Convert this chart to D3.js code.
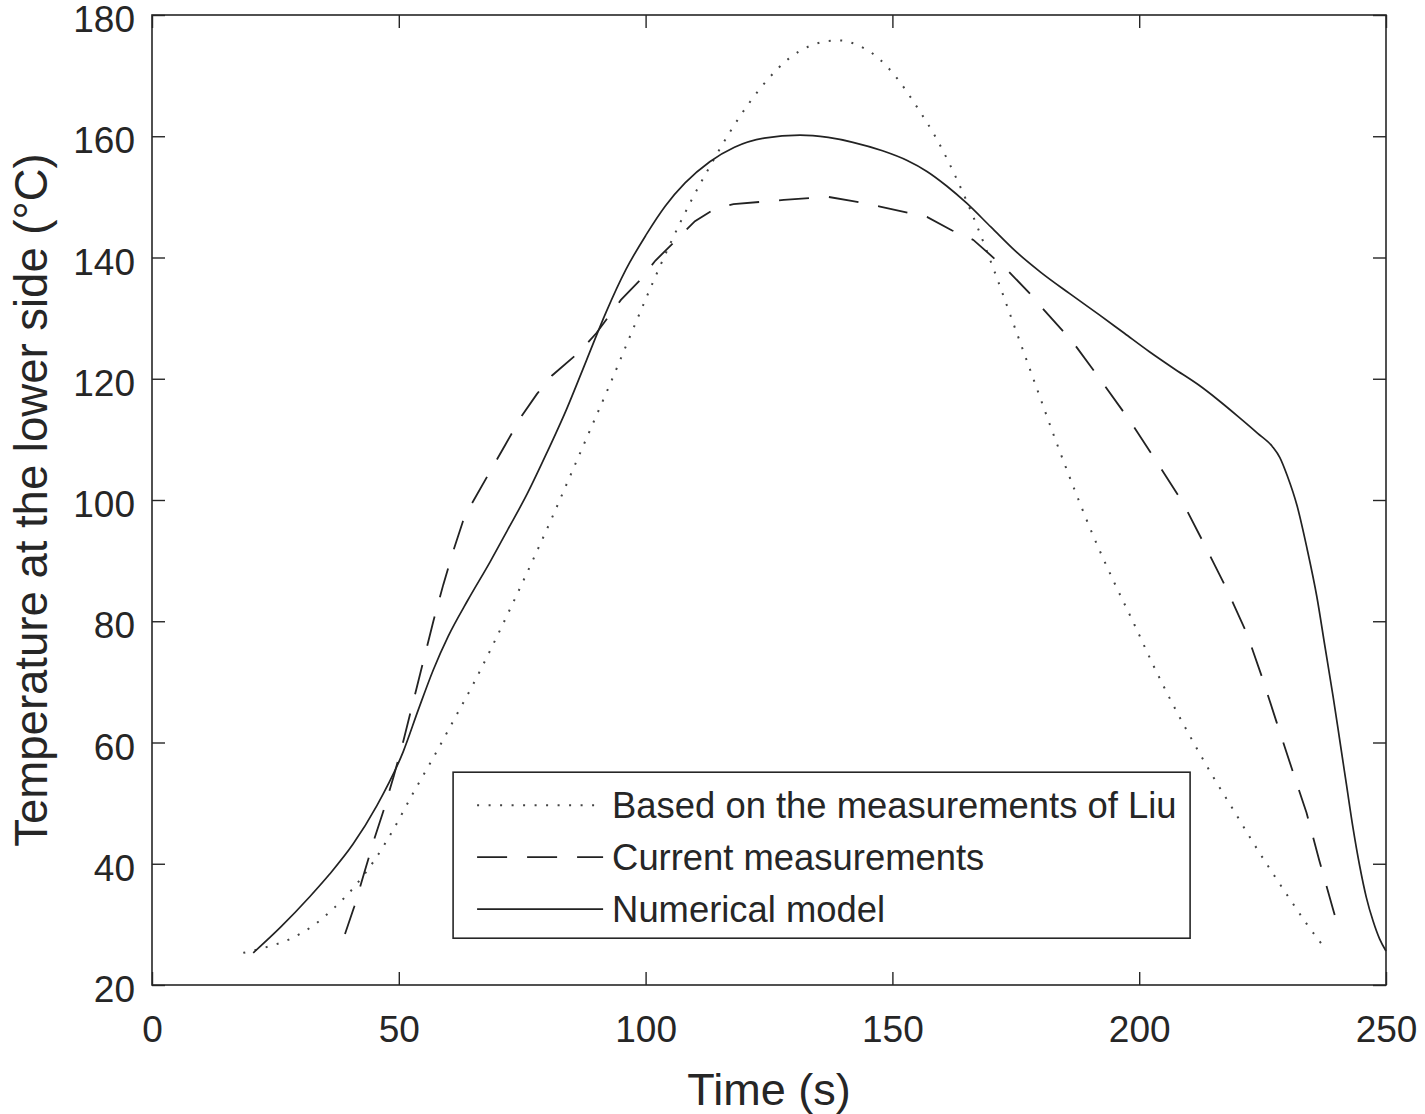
<!DOCTYPE html>
<html>
<head>
<meta charset="utf-8">
<script src="https://d3js.org/d3.v7.min.js"></script>
<style>
  body { margin: 0; background: #fff; }
  text { font-family: "Liberation Sans", Arial, Helvetica, sans-serif; fill: #262626; }
</style>
</head>
<body>
<script>
// Based on the measurements of Liu (dotted)
const liuTime = [18.5, 23, 28, 33, 37, 41, 45, 49, 53, 57, 61, 65, 69, 73, 77, 81, 85, 89, 93, 97, 101, 105, 109, 113, 117, 121, 125, 129, 133, 137, 139.4, 143, 147, 151, 155, 159, 163, 167, 171, 175, 179, 183, 187, 191, 195, 199, 203, 207, 211, 215, 219, 223, 227, 231, 234, 237.6];
const liuTemp = [25.3, 26.2, 27.6, 30, 32.8, 36.2, 40.5, 45.8, 51.8, 57.5, 63.5, 69.5, 76, 82.8, 89.8, 97, 104.5, 112, 119.5, 127.3, 135, 142.3, 149, 155, 160.6, 165.5, 169.6, 172.8, 174.8, 175.7, 175.8, 175, 173, 169.5, 164.8, 159.5, 153, 145.5, 137, 128, 119, 110, 101.5, 93.5, 86.3, 79.5, 72.5, 66, 60, 54.3, 49, 43.6, 38.5, 33.6, 30, 26.1];

// Current measurements (dashed)
const curTime = [39.1, 41, 43, 45, 47, 49, 51, 53, 55, 57, 59, 61, 63, 64.5, 68, 71.5, 75, 78, 81, 86.7, 90, 95, 98.9, 102, 105.6, 110, 114, 117.8, 128, 137, 142, 147.5, 157, 162, 166.4, 173.2, 178.5, 180, 186.6, 192, 198, 203, 208.9, 213, 217.8, 221.8, 225, 227.9, 231, 233.9, 236.5, 239.3, 240.7];
const curTemp = [28.4, 33, 38.5, 44, 49, 54.5, 60.5, 67, 73.5, 80, 86, 91.5, 96.5, 99, 104, 109, 114, 117.5, 120.5, 124.5, 127.5, 133, 136.3, 139.5, 142.4, 146, 148, 148.8, 149.5, 150, 149.3, 148.4, 146.7, 144.5, 142.9, 138, 133.5, 132, 126, 120, 113.2, 107, 99.5, 93, 85.2, 78, 70.5, 63.2, 55.5, 48.4, 40.5, 32.4, 28.6];

// Numerical model (solid)
const numTime = [20.5, 26, 32, 36, 40.7, 45.5, 50.9, 54, 57, 60, 64, 68.5, 72, 76, 80, 84, 88, 92, 96, 100, 104, 108, 113, 118, 124, 131.3, 137, 142, 148, 153, 157, 161, 165, 170, 175, 180, 186, 192, 197, 202, 207, 212, 216, 220, 224, 227, 228.5, 230, 232, 234, 236, 237.6, 239.3, 240.7, 242, 243.3, 244.7, 246, 247.4, 248.7, 250];
const numTemp = [25.3, 29.5, 34.6, 38.3, 43.2, 49.5, 58.5, 65.5, 72, 77.5, 83.5, 89.8, 95, 101, 107.8, 115, 123, 131, 138, 143.6, 148.5, 152.3, 155.8, 158.2, 159.7, 160.2, 159.8, 159, 157.6, 156, 154.2, 151.8, 149, 145, 141, 137.6, 134, 130.5, 127.5, 124.5, 121.7, 119, 116.5, 113.8, 111, 108.8, 107, 104, 99, 92, 84, 76, 67.5, 60, 53, 46, 39.5, 34.5, 30.5, 27.6, 25.6];

const xTicks = [0, 50, 100, 150, 200, 250];
const yTicks = [20, 40, 60, 80, 100, 120, 140, 160, 180];

const legendNames = ["Based on the measurements of Liu", "Current measurements", "Numerical model"];

const margin = { top: 15, bottom: 129, left: 152, right: 39 };
const width = 1425 - margin.left - margin.right;
const height = 1114 - margin.top - margin.bottom;

const svg = d3
  .select("body")
  .append("svg")
  .attr("width", 1425)
  .attr("height", 1114);

const g = svg.append("g").attr("transform", `translate(${margin.left},${margin.top})`);

// scales
const x = d3.scaleLinear().domain([0, 250]).range([0, width]);
const y = d3.scaleLinear().domain([20, 180]).range([height, 0]);

const axisColor = "#262626";

// axes with inward ticks on all four sides
const axBottom = g
  .append("g")
  .attr("transform", `translate(0,${height})`)
  .call(d3.axisBottom(x).tickValues(xTicks).tickSizeInner(-13).tickSizeOuter(0).tickPadding(31));
const axTop = g
  .append("g")
  .call(d3.axisTop(x).tickValues(xTicks).tickSizeInner(-13).tickSizeOuter(0).tickFormat(""));
const axLeft = g
  .append("g")
  .call(d3.axisLeft(y).tickValues(yTicks).tickSizeInner(-13).tickSizeOuter(0).tickPadding(17));
const axRight = g
  .append("g")
  .attr("transform", `translate(${width},0)`)
  .call(d3.axisRight(y).tickValues(yTicks).tickSizeInner(-13).tickSizeOuter(0).tickFormat(""));

[axBottom, axTop, axLeft, axRight].forEach((a) => {
  a.select(".domain").remove();
  a.selectAll("line").attr("stroke", axisColor).attr("stroke-width", 1.4);
  a.selectAll("text").attr("font-size", 37).attr("fill", axisColor);
});
// y labels sit a little lower than the tick
axLeft.selectAll("text").attr("dy", "0.45em");

// box
g.append("rect")
  .attr("width", width)
  .attr("height", height)
  .attr("fill", "none")
  .attr("stroke", axisColor)
  .attr("stroke-width", 1.6);

// lines
const series = [
  { time: liuTime, temp: liuTemp, dash: "2,9.5", w: 2, color: "#444", curve: d3.curveMonotoneX },
  { time: curTime, temp: curTemp, dash: "30,20", w: 1.8, color: "#222", curve: d3.curveLinear },
  { time: numTime, temp: numTemp, dash: null, w: 1.7, color: "#222", curve: d3.curveMonotoneX },
];

series.forEach((s) => {
  const pts = s.time.map((t, i) => [t, s.temp[i]]);
  const line = d3
    .line()
    .x((d) => x(d[0]))
    .y((d) => y(d[1]))
    .curve(s.curve);
  g.append("path")
    .datum(pts)
    .attr("d", line)
    .attr("fill", "none")
    .attr("stroke", s.color)
    .attr("stroke-width", s.w)
    .attr("stroke-dasharray", s.dash);
});

// legend
const legend = g.append("g").attr("transform", `translate(${x(61)},${y(55.1)})`);
legend
  .append("rect")
  .attr("width", 737)
  .attr("height", 166)
  .attr("fill", "#fff")
  .attr("stroke", axisColor)
  .attr("stroke-width", 1.6);

legendNames.forEach((name, i) => {
  const ly = 33 + i * 52;
  legend
    .append("line")
    .attr("x1", 24)
    .attr("x2", 150)
    .attr("y1", ly)
    .attr("y2", ly)
    .attr("stroke", series[i].color)
    .attr("stroke-width", series[i].w)
    .attr("stroke-dasharray", series[i].dash);
  legend
    .append("text")
    .attr("x", 159)
    .attr("y", ly)
    .attr("dy", "0.35em")
    .attr("font-size", 36.4)
    .text(name);
});

// axis titles
svg
  .append("text")
  .attr("x", margin.left + width / 2)
  .attr("y", 1105)
  .attr("text-anchor", "middle")
  .attr("font-size", 45)
  .text("Time (s)");

svg
  .append("text")
  .attr("transform", `translate(47,${margin.top + height / 2}) rotate(-90)`)
  .attr("text-anchor", "middle")
  .attr("font-size", 45.5)
  .text("Temperature at the lower side (°C)");
</script>
</body>
</html>
